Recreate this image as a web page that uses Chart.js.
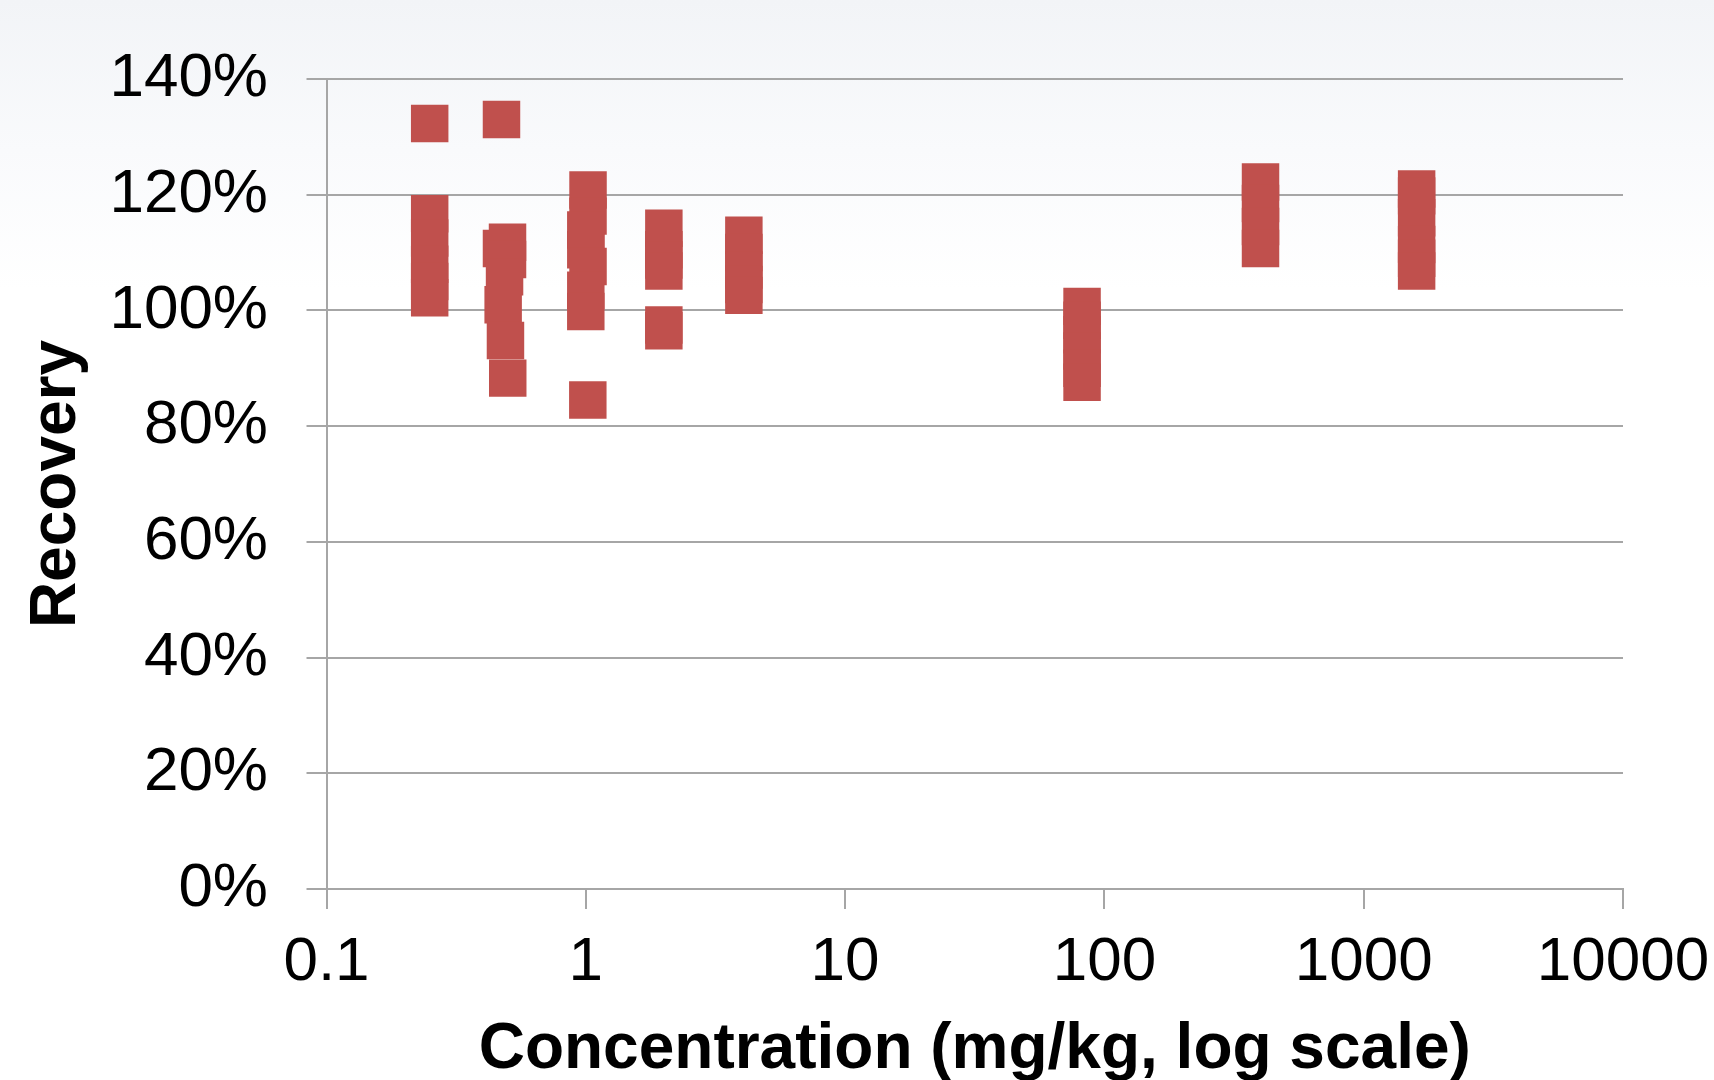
<!DOCTYPE html>
<html>
<head>
<meta charset="utf-8">
<script src="https://cdn.jsdelivr.net/npm/chart.js@4/dist/chart.umd.min.js"></script>
<style>
  html, body {
    margin: 0;
    padding: 0;
  }
  body {
    width: 1714px;
    height: 1080px;
    overflow: hidden;
    background: linear-gradient(to bottom, #f2f4f7 0px, #f9fafc 150px, #ffffff 290px);
  }
  canvas {
    display: block;
  }
</style>
</head>
<body>
<canvas id="recoveryChart" width="1714" height="1080"></canvas>
<script>
// concentration (mg/kg) and recovery (%) for each point
const concentration = [
  0.25, 0.25, 0.25, 0.25, 0.25, 0.25,
  0.473, 0.499, 0.473, 0.499, 0.486, 0.48, 0.49, 0.5,
  1.02, 1.02, 1.0, 1.0, 1.02, 1.0, 1.0, 1.018,
  2.0, 2.0, 2.0, 2.0, 2.0, 2.0,
  4.07, 4.07, 4.07, 4.07, 4.07,
  82, 82, 82, 82, 82, 82,
  400, 400, 400, 400,
  1600, 1600, 1600, 1600, 1600, 1600,
];
const recovery = [
  132.3, 116.7, 112.5, 108, 105, 102.2,
  133, 111.8, 110.7, 108.8, 105.8, 101, 94.8, 88.3,
  120.8, 116.3, 113.9, 110.5, 107.6, 103.5, 99.8, 84.5,
  114.2, 110.5, 108.7, 106.8, 97.5, 96.5,
  113, 110, 107, 104.5, 102.6,
  100.7, 98.3, 95.8, 93, 90, 87.6,
  122.2, 118.5, 114.5, 110.7,
  121, 119.8, 116, 111.4, 109, 106.8,
];
const xTickValues = [0.1, 1, 10, 100, 1000, 10000];
const xTickLabels = ["0.1", "1", "10", "100", "1000", "10000"];

const points = concentration.map((c, i) => ({ x: c, y: recovery[i] }));

const gridColor = "#a6a6a6";
const fontFamily = "'Liberation Sans', Arial, sans-serif";

const ctx = document.getElementById("recoveryChart");
new Chart(ctx, {
  type: "scatter",
  data: {
    datasets: [
      {
        label: "Recovery",
        data: points,
        pointStyle: "rect",
        pointRadius: 26.5,
        pointHoverRadius: 26.5,
        backgroundColor: "#c0504d",
        borderWidth: 0,
      },
    ],
  },
  options: {
    responsive: false,
    animation: false,
    devicePixelRatio: 1,
    layout: {
      padding: { top: 79, right: 91, left: 0, bottom: 0 },
    },
    plugins: {
      legend: { display: false },
      tooltip: { enabled: false },
    },
    scales: {
      x: {
        type: "logarithmic",
        min: 0.1,
        max: 10000,
        afterBuildTicks: (scale) => {
          scale.ticks = xTickValues.map((v) => ({ value: v }));
        },
        afterFit: (scale) => {
          scale.height = 191;
          // no extra room for the end labels, the layout padding covers it
          scale.paddingLeft = 0;
          scale.paddingRight = 0;
        },
        ticks: {
          autoSkip: false,
          maxRotation: 0,
          padding: 22.5,
          color: "#000",
          font: { family: fontFamily, size: 62, lineHeight: 1 },
          callback: (value) => {
            const i = xTickValues.indexOf(value);
            return i >= 0 ? xTickLabels[i] : "";
          },
        },
        grid: {
          drawOnChartArea: false,
          drawTicks: true,
          tickLength: 20,
          color: gridColor,
          lineWidth: 2,
        },
        border: { display: true, color: gridColor, width: 2 },
        title: {
          display: true,
          text: "Concentration (mg/kg, log scale)",
          color: "#000",
          font: { family: fontFamily, size: 64, weight: "bold", lineHeight: 1 },
          padding: { top: 0, bottom: -2 },
        },
      },
      y: {
        min: 0,
        max: 140,
        afterFit: (scale) => {
          scale.width = 326.5;
          scale.paddingTop = 0;
          scale.paddingBottom = 0;
        },
        ticks: {
          stepSize: 20,
          padding: 38.5,
          color: "#000",
          font: { family: fontFamily, size: 62, lineHeight: 1 },
          callback: (value) => value + "%",
        },
        grid: {
          drawTicks: true,
          tickLength: 20,
          color: gridColor,
          lineWidth: 2,
        },
        border: { display: true, color: gridColor, width: 2 },
        title: {
          display: true,
          text: "Recovery",
          color: "#000",
          font: { family: fontFamily, size: 64, weight: "bold", lineHeight: 1 },
          padding: { top: 25, bottom: 0 },
        },
      },
    },
  },
});
</script>
</body>
</html>
